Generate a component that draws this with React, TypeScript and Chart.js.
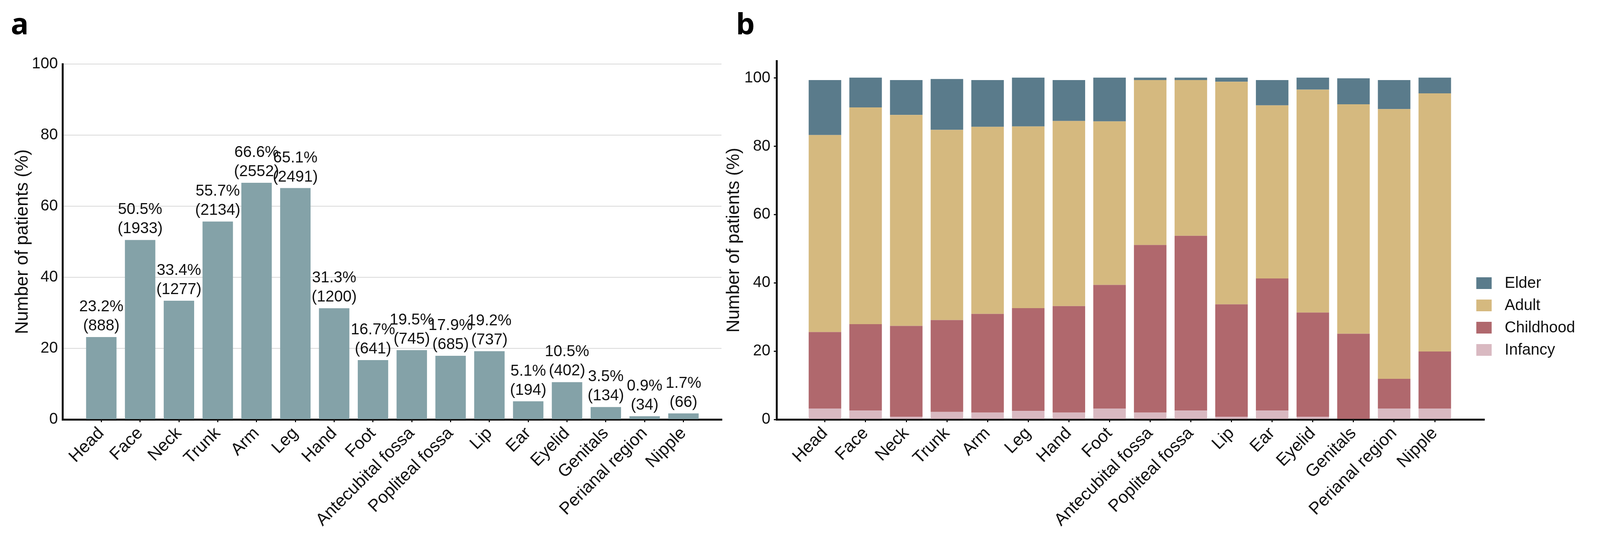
import React, { useEffect, useRef } from 'react';
import { Chart, registerables } from 'chart.js';

Chart.register(...registerables);

// ---------- data ----------
const sites = [
  'Head', 'Face', 'Neck', 'Trunk', 'Arm', 'Leg', 'Hand', 'Foot',
  'Antecubital fossa', 'Popliteal fossa', 'Lip', 'Ear', 'Eyelid',
  'Genitals', 'Perianal region', 'Nipple',
];
const sitePercent = [23.2, 50.5, 33.4, 55.7, 66.6, 65.1, 31.3, 16.7, 19.5, 17.9, 19.2, 5.1, 10.5, 3.5, 0.9, 1.7];
const siteCount = [888, 1933, 1277, 2134, 2552, 2491, 1200, 641, 745, 685, 737, 194, 402, 134, 34, 66];

const infancy = [3.2, 2.6, 0.8, 2.2, 2.0, 2.5, 2.0, 3.2, 2.0, 2.6, 0.8, 2.6, 0.8, 0, 3.2, 3.2];
const childhood = [22.4, 25.3, 26.6, 26.9, 28.9, 30.1, 31.2, 36.2, 49.1, 51.2, 32.9, 38.7, 30.5, 25.1, 8.7, 16.7];
const adult = [57.7, 63.5, 61.8, 55.7, 54.8, 53.2, 54.2, 47.9, 48.3, 45.6, 65.2, 50.7, 65.3, 67.2, 79.0, 75.6];
const elder = [16.1, 8.7, 10.2, 14.9, 13.7, 14.3, 12.0, 12.8, 0.7, 0.7, 1.2, 7.4, 3.5, 7.6, 8.5, 4.6];

const ageGroups = ['Infancy', 'Childhood', 'Adult', 'Elder'];
const ageSeries = [infancy, childhood, adult, elder];

// ---------- styles ----------
const FONT = "'Liberation Sans', Arial, Helvetica, sans-serif";
const INK = '#111111';
const BAR_A = '#84a2a8';
const AGE_COLORS = ['#d9b9c1', '#b0686d', '#d5b97f', '#5a7b8b'];
const DESIGN_W = 4170;
const DESIGN_H = 1375;

Chart.defaults.font.family = FONT;
Chart.defaults.color = INK;

const toPoints = (arr: number[]) => arr.map((v, i) => ({ x: i, y: v }));
const keepSiteTicks = (s: any) => {
  s.ticks = s.ticks.filter((t: any) => Number.isInteger(t.value) && t.value >= 0 && t.value < sites.length);
};
const keepUpTo100 = (s: any) => {
  s.ticks = s.ticks.filter((t: any) => t.value <= 100);
};

const barLabelPlugin = {
  id: 'barLabels',
  afterDatasetsDraw(chart: any) {
    const meta = chart.getDatasetMeta(0);
    const ctx = chart.ctx;
    ctx.save();
    ctx.font = `40px ${FONT}`;
    ctx.fillStyle = INK;
    ctx.textAlign = 'center';
    ctx.textBaseline = 'middle';
    meta.data.forEach((bar: any, i: number) => {
      const { x, y } = bar.getProps(['x', 'y'], true);
      ctx.fillText(`${sitePercent[i].toFixed(1)}%`, x, y - 77);
      ctx.fillText(`(${siteCount[i]})`, x, y - 28);
    });
    ctx.restore();
  },
};

const letterPlugin = {
  id: 'panelLetter',
  afterDraw(chart: any, _args: any, opts: any) {
    const ctx = chart.ctx;
    ctx.save();
    ctx.font = `700 76px 'Open Sans', ${FONT}`;
    ctx.fillStyle = '#000';
    ctx.textAlign = 'left';
    ctx.textBaseline = 'alphabetic';
    ctx.fillText(opts.text, opts.x, opts.y);
    ctx.restore();
  },
};

const sideLegendPlugin = {
  id: 'sideLegend',
  afterDraw(chart: any, _args: any, opts: any) {
    const { ctx, chartArea } = chart;
    const sx = opts.sx || 1;
    const items = chart.data.datasets.slice().reverse();
    const x0 = chartArea.right - 20 * sx;
    const y0 = chartArea.bottom - 364;
    ctx.save();
    ctx.font = `40px ${FONT}`;
    ctx.textAlign = 'left';
    ctx.textBaseline = 'middle';
    items.forEach((d: any, i: number) => {
      const top = y0 + i * 57;
      ctx.fillStyle = d.backgroundColor;
      ctx.fillRect(x0, top, 40 * sx, 30);
      ctx.fillStyle = INK;
      ctx.fillText(d.label, x0 + 74 * sx, top + 16);
    });
    ctx.restore();
  },
};

const xAxisCommon = (min: number, max: number) => ({
  type: 'linear' as const,
  min,
  max,
  offset: false,
  grid: { offset: false, drawOnChartArea: false, drawTicks: true, tickLength: 7, color: INK, lineWidth: 3 },
  border: { display: true, color: INK, width: 5 },
  ticks: {
    stepSize: 1,
    autoSkip: false,
    minRotation: 45,
    maxRotation: 45,
    padding: 3,
    font: { size: 44 },
    color: INK,
    callback: (v: any) => sites[v as number] ?? '',
  },
  afterBuildTicks: keepSiteTicks,
  afterFit: (s: any) => { s.height = 301; },
});

const pageScale = () =>
  typeof window !== 'undefined' && window.innerWidth > 0 ? Math.min(1, window.innerWidth / DESIGN_W) : 1;

export default function App() {
  const refA = useRef<HTMLCanvasElement>(null);
  const refB = useRef<HTMLCanvasElement>(null);
  const sx = pageScale();
  const wA = Math.round(1960 * sx);
  const leftB = Math.round(1860 * sx);
  const wB = Math.round(DESIGN_W * sx) - leftB;

  useEffect(() => {
    const chartA = new Chart(refA.current as HTMLCanvasElement, {
      type: 'bar',
      data: {
        datasets: [{
          label: 'Number of patients',
          data: toPoints(sitePercent),
          backgroundColor: BAR_A,
          categoryPercentage: 1,
          barPercentage: 0.784,
        }],
      },
      options: {
        responsive: false,
        animation: false,
        devicePixelRatio: 1,
        layout: { padding: { top: 164, right: wA - Math.round(1880 * sx), left: 0, bottom: 0 } },
        plugins: {
          legend: { display: false },
          tooltip: { enabled: false },
          panelLetter: { text: 'a', x: 28 * sx, y: 88 },
        } as any,
        scales: {
          x: xAxisCommon(-1, 15.98) as any,
          y: {
            min: 0,
            max: 100,
            grid: { color: '#d9d9d9', lineWidth: 2, drawTicks: false },
            border: { color: INK, width: 5 },
            ticks: { stepSize: 20, padding: 12 * sx, font: { size: 40 }, color: INK },
            title: {
              display: true,
              text: 'Number of patients (%)',
              font: { size: 46 },
              color: INK,
              padding: { top: 59 * sx - 27.6, bottom: 0 },
            },
            afterFit: (s: any) => { s.width = Math.round(163 * sx); },
          } as any,
        },
      },
      plugins: [barLabelPlugin, letterPlugin],
    });

    const chartB = new Chart(refB.current as HTMLCanvasElement, {
      type: 'bar',
      data: {
        datasets: ageGroups.map((g, k) => ({
          label: g,
          data: toPoints(ageSeries[k]),
          backgroundColor: AGE_COLORS[k],
          categoryPercentage: 1,
          barPercentage: 0.8,
        })),
      },
      options: {
        responsive: false,
        animation: false,
        devicePixelRatio: 1,
        layout: { padding: { top: 156, right: leftB + wB - Math.round(3868 * sx), left: 0, bottom: 0 } },
        plugins: {
          legend: { display: false },
          tooltip: { enabled: false },
          panelLetter: { text: 'b', x: 1918 * sx - leftB, y: 88 },
          sideLegend: { sx },
        } as any,
        scales: {
          x: { ...xAxisCommon(-1.19, 16.21), stacked: true } as any,
          y: {
            stacked: true,
            min: 0,
            max: 105,
            bounds: 'data',
            grid: { drawOnChartArea: false, drawTicks: true, tickLength: 7, color: INK, lineWidth: 3 },
            border: { color: INK, width: 5 },
            ticks: { stepSize: 20, padding: 9 * sx, font: { size: 40 }, color: INK },
            afterBuildTicks: keepUpTo100,
            title: {
              display: true,
              text: 'Number of patients (%)',
              font: { size: 46 },
              color: INK,
              padding: { top: 1913 * sx - leftB - 27.6, bottom: 0 },
            },
            afterFit: (s: any) => { s.width = Math.round(2024 * sx) - leftB; },
          } as any,
        },
      },
      plugins: [letterPlugin, sideLegendPlugin],
    });

    return () => {
      chartA.destroy();
      chartB.destroy();
    };
  }, []);

  return (
    <div style={{ position: 'absolute', left: 0, top: 0, width: Math.round(DESIGN_W * sx), height: DESIGN_H, background: '#ffffff', overflow: 'hidden' }}>
      <canvas
        ref={refA}
        width={wA}
        height={DESIGN_H}
        style={{ position: 'absolute', left: 0, top: 0, width: wA, height: DESIGN_H }}
      />
      <canvas
        ref={refB}
        width={wB}
        height={DESIGN_H}
        style={{ position: 'absolute', left: leftB, top: 0, width: wB, height: DESIGN_H }}
      />
    </div>
  );
}
